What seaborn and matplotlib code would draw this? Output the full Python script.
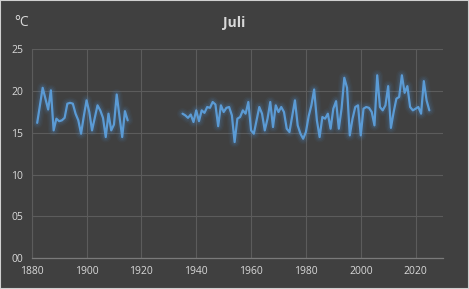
import numpy as np
import pandas as pd
import matplotlib
matplotlib.use("Agg")
import matplotlib.pyplot as plt
import seaborn as sns

# ---- data ----
years_a = list(range(1882, 1916))
temps_a = [16.2, 18.3, 20.4, 19.1, 17.8, 20.1, 15.3, 16.7, 16.4, 16.5,
           16.8, 18.5, 18.6, 18.5, 17.3, 16.5, 14.9, 17.0, 18.9, 17.5,
           15.3, 16.8, 18.3, 17.7, 16.8, 14.5, 17.3, 15.3, 16.0, 19.6,
           17.0, 14.5, 17.6, 16.5]

years_b = list(range(1935, 2026))
temps_b = [17.3, 17.1, 16.8, 17.2, 16.3, 17.7, 16.4, 17.7, 17.4, 18.1,
           18.0, 18.7, 18.4, 15.8, 18.3, 17.5, 18.0, 18.1, 17.1, 13.9,
           16.7, 16.9, 17.7, 17.3, 18.7, 15.3, 14.9, 16.5, 18.1, 17.3,
           15.3, 16.7, 18.7, 15.7, 18.3, 17.5, 18.1, 17.5, 15.5, 15.1,
           17.0, 18.9, 15.9, 14.9, 14.3, 15.1, 17.0, 18.3, 20.2, 16.5,
           14.5, 16.9, 16.7, 17.3, 15.5, 17.9, 18.8, 15.5, 17.9, 21.6,
           20.4, 14.7, 16.7, 18.1, 18.3, 14.7, 17.9, 18.1, 18.0, 17.5,
           15.9, 21.9, 18.1, 17.7, 18.3, 20.6, 15.6, 17.5, 19.1, 19.3,
           21.9, 19.8, 20.6, 18.1, 17.7, 17.9, 18.1, 17.3, 21.2, 18.9,
           17.7]

x_ticks = [1880, 1900, 1920, 1940, 1960, 1980, 2000, 2020]
y_ticks = [0, 5, 10, 15, 20, 25]
y_tick_labels = ["00", "05", "10", "15", "20", "25"]
title = "Juli"
unit = "°C"

df_a = pd.DataFrame({"year": years_a, "temp": temps_a})
df_b = pd.DataFrame({"year": years_b, "temp": temps_b})

# ---- style ----
bg = "#404040"
txt = "#d9d9d9"
grid = "#5c5c5c"
line_c = "#5b9bd5"
glow_c = "#4f86c0"

sns.set_style("dark")
plt.rcParams["font.family"] = ["Open Sans", "DejaVu Sans"]

fig = plt.figure(figsize=(4.69, 2.89), dpi=100, facecolor=bg)
ax = fig.add_axes([0.0676, 0.107, 0.877, 0.722])
ax.set_facecolor(bg)

for d in (df_a, df_b):
    for lw, a in [(8, 0.06), (6, 0.09), (4, 0.14)]:
        sns.lineplot(data=d, x="year", y="temp", ax=ax, color=glow_c,
                     linewidth=lw, alpha=a, solid_capstyle="round",
                     solid_joinstyle="round")
    sns.lineplot(data=d, x="year", y="temp", ax=ax, color=line_c,
                 linewidth=1.6, solid_joinstyle="round")

ax.set_xlim(1880, 2030)
ax.set_ylim(0, 25)
ax.set_xticks(x_ticks)
ax.set_xticklabels([str(t) for t in x_ticks])
ax.set_yticks(y_ticks)
ax.set_yticklabels(y_tick_labels)
ax.set_xlabel("")
ax.set_ylabel("")
ax.grid(True, color=grid, linewidth=0.8)
ax.set_axisbelow(True)
ax.tick_params(colors=txt, labelsize=7.5, length=0, pad=6)
for s in ["top", "right"]:
    ax.spines[s].set_visible(False)
ax.spines["bottom"].set_visible(True)
ax.spines["bottom"].set_color("#7a7a7a")
ax.spines["bottom"].set_linewidth(0.9)
ax.spines["left"].set_visible(True)
ax.spines["left"].set_color(grid)
ax.spines["left"].set_linewidth(0.8)

fig.text(0.5, 0.922, title, ha="center", va="center", color=txt,
         fontsize=10, fontweight="bold")
fig.text(0.03, 0.922, unit, ha="left", va="center", color=txt, fontsize=10)

# outer light border
fig.patches.append(plt.Rectangle((0, 0), 1, 1, transform=fig.transFigure,
                                 fill=False, edgecolor="#d0d0d0", linewidth=1.5))

fig.savefig("out.png", dpi=100, facecolor=bg)
